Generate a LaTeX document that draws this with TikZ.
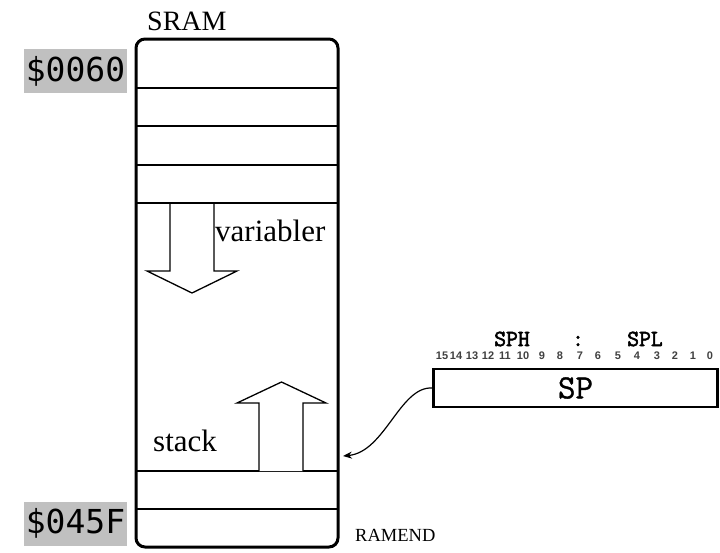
\documentclass[tikz,border=0pt]{standalone}
\usepackage{fontspec}
\setmainfont{Liberation Serif}
\newfontfamily\addrfont{DejaVu Sans Mono}
\newfontfamily\regfont{Latin Modern Mono}[FakeBold=1]
\newfontfamily\regbold{Latin Modern Mono}[FakeBold=2.5]
\newfontfamily\bitfont{Liberation Sans}
\usetikzlibrary{arrows.meta}
\definecolor{addrgrey}{RGB}{192,192,192}
\begin{document}
\begin{tikzpicture}[x=1pt,y=-1pt,
  thinline/.style={line width=1.3pt},
  bigarrow/.style={line width=1.3pt, fill=white, line join=miter},
  addr/.style={fill=addrgrey, inner sep=0pt, minimum width=103pt, minimum height=44pt, font=\addrfont\fontsize{33}{36}\selectfont},
  lbl/.style={inner sep=0pt, anchor=base west, font=\fontsize{31}{34}\selectfont},
  bitnum/.style={inner sep=0pt, anchor=base, font=\bitfont\bfseries\fontsize{11}{12}\selectfont, text=black!75},
  regname/.style={inner sep=0pt, anchor=base, font=\regbold\fontsize{23}{25}\selectfont}]
\useasboundingbox (0,0) rectangle (720,552);
% SRAM box
\node[draw, line width=3pt, rounded corners=9pt, minimum width=202pt, minimum height=508pt, inner sep=0pt] (sram) at (237,293) {};
\foreach \yy in {88,126,165,203,471,509} {
  \draw[thinline] (136,\yy) -- (338,\yy);
}
% variabler arrow (down)
\draw[bigarrow] (170,204) -- (170,271) -- (147,271) -- (192,293) -- (237,271) -- (214,271) -- (214,204);
% stack arrow (up)
\draw[bigarrow] (259,471) -- (259,403) -- (237,403) -- (281.5,382) -- (326,403) -- (303,403) -- (303,471);
% labels
\node[lbl, font=\fontsize{28}{30}\selectfont] (sramlbl) at (147,30.5) {SRAM};
\node[lbl] (varlbl) at (215,241.5) {variabler};
\node[lbl] (stacklbl) at (153,451.5) {stack};
\node[lbl, font=\fontsize{18.5}{20}\selectfont] (ramend) at (355,541.5) {RAMEND};
\node[addr] (a0060) at (75.5,71) {\$0060};
\node[addr] (a045f) at (75.5,523.5) {\$045F};
% SP register
\node[draw, line width=2.5pt, minimum width=284pt, minimum height=38pt, inner sep=0pt, font=\regfont\fontsize{34}{36}\selectfont] (sp) at (575.5,388) {SP};
\node[regname] (sph) at (512,346) {SPH};
\node[regname] (colon) at (578,346) {:};
\node[regname] (spl) at (645,346) {SPL};
\foreach \n/\xx in {15/442,14/456,13/472,12/488,11/505,10/523,9/542,8/560,7/580,6/598,5/618,4/637,3/657,2/675,1/693,0/710} {
  \node[bitnum] (b\n) at (\xx,359) {\n};
}
% connector
\coordinate (sptip) at (343,456);
\draw[line width=1.2pt, -{Stealth[length=9pt,width=7pt]}] (sp.west) .. controls (400,386) and (385,452) .. (sptip);
\end{tikzpicture}
\end{document}
